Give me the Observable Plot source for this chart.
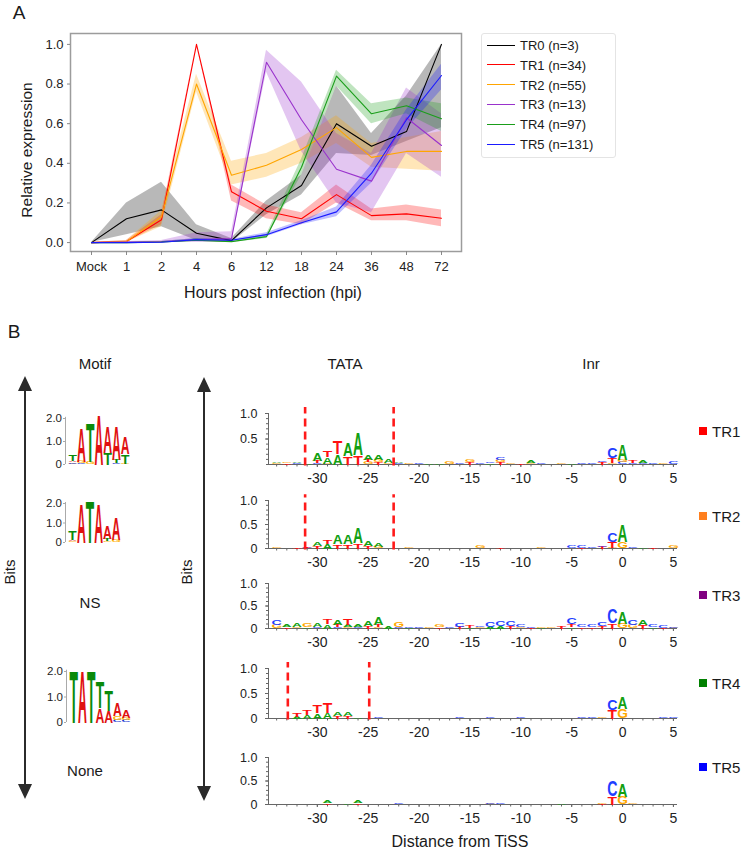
<!DOCTYPE html>
<html><head><meta charset="utf-8">
<script src="https://cdn.jsdelivr.net/npm/d3@7"></script>
<script src="https://cdn.jsdelivr.net/npm/@observablehq/plot@0.6"></script>
<style>
body{margin:0;background:#fff;font-family:"Liberation Sans",Arial,sans-serif;}
#root{position:relative;width:750px;height:851px;overflow:hidden;background:#fff;}
.lbl{position:absolute;white-space:nowrap;line-height:1;color:#1a1a1a;}
.pl{position:absolute;}
</style></head><body><div id="root"></div>
<script>
// ---------------- Panel A data ----------------
const hours = ["Mock","1","2","4","6","12","18","24","36","48","72"];
const seriesNames = ["TR0 (n=3)","TR1 (n=34)","TR2 (n=55)","TR3 (n=13)","TR4 (n=97)","TR5 (n=131)"];
const seriesColors = ["#000000","#ff0000","#ffa500","#9932cc","#1a9e1a","#1a1aff"];
const tr0Mean = [0,0.12,0.165,0.047,0.01,0.175,0.288,0.60,0.486,0.56,1.0];
const tr0Lo   = [0,0.04,0.08,0.01,0.0,0.14,0.24,0.45,0.44,0.51,0.58];
const tr0Hi   = [0,0.20,0.305,0.09,0.02,0.21,0.34,0.79,0.55,0.74,1.0];
const tr1Mean = [0,0.005,0.115,1.0,0.256,0.158,0.12,0.242,0.136,0.145,0.123];
const tr1Lo   = [0,0,0.09,1.0,0.21,0.12,0.09,0.20,0.11,0.11,0.08];
const tr1Hi   = [0,0.01,0.14,1.0,0.29,0.19,0.15,0.29,0.17,0.19,0.165];
const tr2Mean = [0,0.005,0.13,0.80,0.34,0.39,0.47,0.58,0.43,0.46,0.46];
const tr2Lo   = [0,0,0.08,0.76,0.29,0.33,0.40,0.50,0.38,0.37,0.36];
const tr2Hi   = [0,0.01,0.16,0.85,0.41,0.45,0.53,0.64,0.50,0.53,0.56];
const tr3Mean = [0,0.003,0.005,0.015,0.02,0.91,0.62,0.37,0.31,0.63,0.49];
const tr3Lo   = [0,0,0,0,0,0.86,0.46,0.20,0.15,0.45,0.33];
const tr3Hi   = [0,0.005,0.01,0.05,0.055,0.97,0.81,0.55,0.45,0.78,0.65];
const tr4Mean = [0,0,0.003,0.012,0.005,0.03,0.38,0.84,0.65,0.69,0.625];
const tr4Lo   = [0,0,0,0.005,0,0.02,0.34,0.79,0.60,0.65,0.56];
const tr4Hi   = [0,0,0.005,0.02,0.01,0.04,0.42,0.87,0.70,0.73,0.70];
const tr5Mean = [0,0,0.002,0.015,0.012,0.04,0.10,0.155,0.35,0.62,0.843];
const tr5Lo   = [0,0,0,0.01,0.008,0.03,0.09,0.13,0.30,0.57,0.77];
const tr5Hi   = [0,0,0.005,0.02,0.016,0.05,0.11,0.18,0.39,0.67,0.90];
const yTicksA = [0,0.2,0.4,0.6,0.8,1.0];

// ---------------- Panel B data ----------------
// motif logos (position, stack bottom->top [letter, bits])
const motifTR1 = [
  [1,[["G",0.04],["C",0.05],["A",0.05],["T",0.28]]],
  [2,[["C",0.05],["G",0.08],["A",1.47]]],
  [3,[["G",0.1],["T",1.68]]],
  [4,[["A",2.12]]],
  [5,[["T",0.5],["A",1.13]]],
  [6,[["C",0.05],["T",0.15],["A",1.45]]],
  [7,[["G",0.04],["T",0.4],["A",0.74]]]
];
const motifTR2 = [
  [1,[["G",0.07],["A",0.08],["T",0.46]]],
  [2,[["A",2.0]]],
  [3,[["T",2.1]]],
  [4,[["A",2.0]]],
  [5,[["G",0.08],["T",0.12],["A",0.67]]],
  [6,[["G",0.14],["A",1.1]]]
];
const motifTR4 = [
  [1,[["T",2.05]]],
  [2,[["A",2.05]]],
  [3,[["T",2.05]]],
  [4,[["A",0.55],["T",1.0]]],
  [5,[["A",0.45],["T",0.8]]],
  [6,[["C",0.1],["G",0.15],["A",0.5]]],
  [7,[["C",0.08],["G",0.1],["A",0.3]]]
];
const motifTicks = [0,1,2];

// positional logos around the TiSS
const distMajor = [-30,-25,-20,-15,-10,-5,0,5];
const distMinor = [-34,-33,-32,-31,-30,-29,-28,-27,-26,-25,-24,-23,-22,-21,-20,-19,-18,-17,-16,-15,-14,-13,-12,-11,-10,-9,-8,-7,-6,-5,-4,-3,-2,-1,0,1,2,3,4,5];
const bitsMinor = [0,0.1,0.2,0.3,0.4,0.5,0.6,0.7,0.8,0.9,1.0];
const logoTR1 = [
  [-34,[["G",0.02],["A",0.02]]],[-33,[["T",0.02],["G",0.02]]],[-32,[["C",0.02],["A",0.02]]],[-31,[["A",0.03]]],
  [-30,[["C",0.02],["T",0.05],["A",0.16]]],
  [-29,[["G",0.01],["A",0.13],["T",0.12]]],
  [-28,[["A",0.21],["T",0.24]]],
  [-27,[["T",0.16],["A",0.24]]],
  [-26,[["T",0.18],["A",0.44]]],
  [-25,[["G",0.04],["T",0.04],["A",0.10]]],
  [-24,[["T",0.04],["G",0.04],["A",0.10]]],
  [-23,[["G",0.02],["A",0.07]]],
  [-22,[["C",0.02],["A",0.02]]],[-21,[["G",0.02]]],[-20,[["C",0.02]]],[-19,[["A",0.02]]],[-18,[["A",0.02]]],
  [-17,[["G",0.05]]],[-16,[["C",0.02]]],[-15,[["T",0.04],["G",0.04]]],[-14,[["C",0.02]]],[-13,[["A",0.02],["C",0.02]]],
  [-12,[["T",0.04],["G",0.05],["C",0.06]]],
  [-11,[["G",0.02]]],[-10,[["T",0.02]]],[-9,[["G",0.02],["A",0.04]]],[-8,[["C",0.02]]],[-6,[["G",0.02]]],[-5,[["A",0.02]]],
  [-4,[["C",0.02]]],[-3,[["C",0.03]]],[-2,[["T",0.04],["C",0.03]]],
  [-1,[["G",0.02],["T",0.10],["C",0.21]]],
  [0,[["C",0.04],["G",0.05],["A",0.30]]],
  [1,[["C",0.03],["T",0.04]]],[2,[["C",0.02],["A",0.05]]],[3,[["C",0.03]]],[4,[["G",0.02]]],[5,[["C",0.05]]]
];
const logoTR2 = [
  [-34,[["G",0.02]]],[-32,[["T",0.02]]],[-31,[["C",0.02],["T",0.03]]],
  [-30,[["T",0.05],["A",0.08]]],
  [-29,[["A",0.10],["T",0.09]]],
  [-28,[["T",0.09],["A",0.19]]],
  [-27,[["T",0.09],["A",0.19]]],
  [-26,[["T",0.11],["A",0.32]]],
  [-25,[["T",0.05],["A",0.10]]],
  [-24,[["G",0.04],["A",0.09]]],
  [-21,[["G",0.03]]],[-14,[["G",0.05]]],[-12,[["T",0.02]]],[-8,[["G",0.02]]],
  [-5,[["C",0.04]]],[-4,[["T",0.02],["C",0.04]]],[-3,[["C",0.02]]],[-2,[["T",0.04],["C",0.02]]],
  [-1,[["G",0.02],["T",0.12],["C",0.18]]],
  [0,[["G",0.14],["A",0.35]]],
  [1,[["C",0.02]]],[2,[["A",0.02]]],[3,[["T",0.02]]],[5,[["G",0.04]]]
];
const logoTR3 = [
  [-34,[["G",0.07],["C",0.1]]],[-33,[["T",0.03],["A",0.05]]],[-32,[["G",0.04],["A",0.07]]],[-31,[["A",0.03],["G",0.07]]],
  [-30,[["C",0.04],["A",0.08]]],[-29,[["A",0.09],["T",0.11]]],[-28,[["C",0.03],["T",0.04],["A",0.1]]],
  [-27,[["G",0.03],["A",0.05],["T",0.14]]],[-26,[["C",0.04],["A",0.06]]],[-25,[["T",0.05],["A",0.1]]],
  [-24,[["G",0.03],["T",0.05],["A",0.16]]],[-23,[["A",0.04]]],[-22,[["C",0.03],["G",0.1]]],[-21,[["A",0.02],["C",0.04]]],
  [-20,[["C",0.03]]],[-19,[["G",0.03]]],[-18,[["T",0.03],["G",0.05]]],[-17,[["C",0.03]]],
  [-16,[["T",0.04],["C",0.09]]],[-15,[["A",0.02],["T",0.05]]],[-14,[["G",0.03],["C",0.03]]],
  [-13,[["A",0.04],["C",0.1]]],[-12,[["A",0.06],["C",0.1]]],[-11,[["T",0.06],["C",0.1]]],
  [-10,[["G",0.03],["C",0.05]]],[-9,[["T",0.02],["C",0.04]]],[-8,[["A",0.02],["G",0.03]]],[-7,[["G",0.04]]],[-6,[["T",0.04]]],
  [-5,[["A",0.03],["T",0.06],["C",0.14]]],[-4,[["T",0.03],["C",0.05]]],[-3,[["T",0.03],["C",0.05]]],
  [-2,[["T",0.06],["C",0.08]]],
  [-1,[["T",0.11],["C",0.33]]],
  [0,[["G",0.11],["A",0.25]]],
  [1,[["G",0.08],["C",0.1]]],[2,[["T",0.08],["A",0.1]]],[3,[["A",0.03],["C",0.05]]],[4,[["T",0.02],["C",0.05]]],[5,[["G",0.02],["C",0.04]]]
];
const logoTR4 = [
  [-32,[["A",0.04],["T",0.07]]],
  [-31,[["A",0.08],["T",0.11]]],
  [-30,[["A",0.11],["T",0.14]]],
  [-29,[["A",0.12],["T",0.20]]],
  [-28,[["T",0.05],["A",0.08]]],
  [-27,[["T",0.05],["A",0.08]]],
  [-26,[["A",0.02]]],[-24,[["C",0.02]]],[-16,[["C",0.02]]],[-13,[["C",0.01]]],[-10,[["C",0.03]]],
  [-4,[["C",0.02]]],[-3,[["C",0.02]]],[-2,[["G",0.02]]],
  [-1,[["T",0.17],["C",0.22]]],
  [0,[["G",0.19],["A",0.23]]],
  [4,[["C",0.02]]],[5,[["C",0.02]]]
];
const logoTR5 = [
  [-29,[["T",0.03],["A",0.04]]],[-27,[["A",0.02]]],[-26,[["T",0.03],["A",0.04]]],[-22,[["C",0.03]]],
  [-13,[["G",0.02],["C",0.02]]],[-12,[["C",0.02]]],[-6,[["A",0.02]]],[-2,[["T",0.02],["G",0.02]]],
  [-1,[["T",0.17],["C",0.34]]],
  [0,[["G",0.17],["A",0.26]]],
  [1,[["G",0.03]]]
];
const dashTR1 = [-31.2,-22.5];
const dashTR2 = [-31.2,-22.5];
const dashTR4 = [-32.9,-24.9];
const groupNames = ["TR1","TR2","TR3","TR4","TR5"];
const groupColors = ["#ff0000","#ff7f1e","#800080","#008000","#0000ff"];

// ---------------- helpers ----------------
const FONT = "Liberation Sans, Arial, sans-serif";
const root = document.getElementById("root");
const logoColors = {A:"#12a012", C:"#1f3fff", G:"#ffa800", T:"#ff1010"};
const motifColors = {A:"#e01010", C:"#1030d0", G:"#ffb000", T:"#0a8a0a"};

function label(text, cx, cy, size, opts = {}) {
  const d = document.createElement("div");
  d.className = "lbl";
  d.textContent = text;
  d.style.fontSize = size + "px";
  d.style.left = cx + "px";
  d.style.top = cy + "px";
  let tr = "translate(-50%,-50%)";
  if (opts.anchor === "start") tr = "translate(0,-50%)";
  if (opts.rotate) tr += " rotate(" + opts.rotate + "deg)";
  d.style.transform = tr;
  if (opts.color) d.style.color = opts.color;
  root.appendChild(d);
  return d;
}
function place(node, left, top) {
  const w = document.createElement("div");
  w.className = "pl";
  w.style.left = left + "px";
  w.style.top = top + "px";
  w.appendChild(node);
  root.appendChild(w);
}
const glyph = (() => {
  const c = document.createElement("canvas").getContext("2d");
  c.font = "bold 100px 'Liberation Sans'";
  const m = {};
  for (const L of "ACGT") {
    const t = c.measureText(L);
    m[L] = {L: t.actualBoundingBoxLeft, R: t.actualBoundingBoxRight, A: t.actualBoundingBoxAscent, D: t.actualBoundingBoxDescent};
  }
  return m;
})();
function stackRows(stacks) {
  const rows = [];
  for (const [pos, letters] of stacks) {
    let y = 0;
    for (const [L, h] of letters) { rows.push({pos, letter: L, y0: y, y1: y + h}); y += h; }
  }
  return rows;
}
function letterMark(rows, colors) {
  return Plot.text(rows, {x: "pos", y: "y0", text: "letter", fill: d => colors[d.letter],
    fontSize: 100, fontWeight: "bold", fontFamily: "Liberation Sans"});
}
// reshape each letter glyph to fill its stack cell, using the same scales as the plot
function shapeLetters(svg, rows, frac, xDom, xRng, yDom, yRng) {
  const fx = d3.scaleLinear(xDom, xRng), fy = d3.scaleLinear(yDom, yRng);
  const colW = Math.abs(fx(1) - fx(0)) * frac;
  const groups = Array.from(svg.querySelectorAll('g[aria-label="text"]'));
  const grp = groups[groups.length - 1];
  if (!grp) return;
  const nodes = grp.querySelectorAll("text");
  nodes.forEach((node, k) => {
    const d = rows[k]; if (!d) return;
    const g = glyph[d.letter];
    const xc = fx(d.pos), yb = fy(d.y0), yt = fy(d.y1);
    const H = Math.max(0.4, yb - yt);
    const gw = g.L + g.R, gh = g.A + g.D;
    node.removeAttribute("dy"); node.removeAttribute("x"); node.removeAttribute("y");
    node.setAttribute("text-anchor", "start");
    node.setAttribute("transform", `translate(${xc - colW / 2},${yb - H}) scale(${colW / gw},${H / gh}) translate(${g.L},${g.A})`);
  });
}

// ---------------- Panel A ----------------
const means = [tr0Mean,tr1Mean,tr2Mean,tr3Mean,tr4Mean,tr5Mean];
const los = [tr0Lo,tr1Lo,tr2Lo,tr3Lo,tr4Lo,tr5Lo];
const his = [tr0Hi,tr1Hi,tr2Hi,tr3Hi,tr4Hi,tr5Hi];
const rowsA = [];
seriesNames.forEach((s, i) => hours.forEach((h, j) => rowsA.push({series: s, hour: h, y: means[i][j], lo: los[i][j], hi: his[i][j]})));

const plotA = Plot.plot({
  width: 470, height: 310,
  marginLeft: 70, marginRight: 9, marginTop: 33, marginBottom: 59,
  x: {type: "point", domain: hours, padding: 0.5},
  y: {domain: [-0.045, 1.055]},
  color: {domain: seriesNames, range: seriesColors},
  style: {fontFamily: FONT, fontSize: "13px", color: "#222", background: "transparent", overflow: "visible"},
  marks: [
    Plot.areaY(rowsA, {x: "hour", y1: "lo", y2: "hi", z: "series", fill: "series", fillOpacity: 0.28}),
    Plot.lineY(rowsA, {x: "hour", y: "y", z: "series", stroke: "series", strokeWidth: 1.1}),
    Plot.frame({stroke: "#9c9c9c", strokeWidth: 1.5}),
    Plot.axisY({ticks: yTicksA, tickFormat: ".1f", tickSize: 3, tickPadding: 4, label: null, fontSize: 13, stroke: "#888"}),
    Plot.axisX({tickSize: 4, tickPadding: 6, label: null, fontSize: 13, stroke: "#888"})
  ]
});
place(plotA, 0, 0);
label("A", 19, 12, 19);
label("Relative expression", 27, 150, 15.5, {rotate: -90});
label("Hours post infection (hpi)", 273, 293, 16);

// legend
const leg = document.createElement("div");
Object.assign(leg.style, {position: "absolute", left: "481px", top: "33px", width: "133px", height: "123px",
  border: "1px solid #e4e4e4", borderRadius: "3px", background: "#fff"});
seriesNames.forEach((s, i) => {
  const cy = 11 + i * 19.8;
  const ln = document.createElement("div");
  Object.assign(ln.style, {position: "absolute", left: "5px", top: (cy - 0.5) + "px", width: "28px", height: "1px", background: seriesColors[i]});
  leg.appendChild(ln);
  const t = document.createElement("div");
  t.className = "lbl";
  t.textContent = s;
  Object.assign(t.style, {left: "38px", top: cy + "px", fontSize: "13px", transform: "translate(0,-50%)"});
  leg.appendChild(t);
});
root.appendChild(leg);

// ---------------- Panel B ----------------
label("B", 14, 331, 19);
label("Motif", 95, 363, 15);
label("TATA", 345, 363, 15);
label("Inr", 591, 363, 15);
label("Bits", 9, 572, 15, {rotate: -90});
label("Bits", 186, 572, 15, {rotate: -90});
label("NS", 90, 602, 15);
label("None", 85, 770, 15);
label("Distance from TiSS", 460, 842, 16);

// arrows
const arrowSvg = document.createElementNS("http://www.w3.org/2000/svg", "svg");
arrowSvg.setAttribute("width", 750); arrowSvg.setAttribute("height", 851);
arrowSvg.style.position = "absolute"; arrowSvg.style.left = "0"; arrowSvg.style.top = "0";
arrowSvg.innerHTML = `
<g fill="#2b2b2b" stroke="#2b2b2b">
<line x1="25" y1="388" x2="25" y2="787" stroke-width="2"/>
<path d="M25,376 L32,391 L18,391 Z" stroke="none"/>
<path d="M25,799 L32,784 L18,784 Z" stroke="none"/>
<line x1="204" y1="389" x2="204" y2="789" stroke-width="2"/>
<path d="M204,377 L211,392 L197,392 Z" stroke="none"/>
<path d="M204,801 L211,786 L197,786 Z" stroke="none"/>
</g>`;
root.appendChild(arrowSvg);

// motif logos (left)
function motifLogo(stacks, ncol, left, top, height, yBase, yTop) {
  const rows = stackRows(stacks);
  const xr = 35 + ncol * 9.15;
  const xDom = [0.18, ncol + 0.5], xRng = [35, xr], yDom = [0, 2], yRng = [yBase, yTop];
  const svg = Plot.plot({
    width: 110, height,
    marginLeft: 35, marginRight: 110 - xr, marginTop: 4, marginBottom: height - yBase,
    x: {domain: xDom, range: xRng, axis: null},
    y: {domain: yDom, range: yRng},
    style: {fontFamily: FONT, fontSize: "11.5px", color: "#222", background: "transparent", overflow: "visible"},
    marks: [
      Plot.ruleX([0.18], {y1: 0, y2: 2.05, stroke: "#aaa"}),
      Plot.axisY({ticks: motifTicks, tickSize: 2, tickPadding: 1.5, tickFormat: d => d === 0 ? "0" : d.toFixed(1), label: null, stroke: "#aaa", fontSize: 11.5}),
      letterMark(rows, motifColors)
    ]
  });
  shapeLetters(svg, rows, 0.95, xDom, xRng, yDom, yRng);
  place(svg, left, top);
}
motifLogo(motifTR1, 7, 30, 400, 80, 64, 18);
motifLogo(motifTR2, 6, 30, 485, 70, 57, 18);
motifLogo(motifTR4, 7, 31, 655, 80, 67, 16);

// positional logos (right)
function tissLogo(stacks, baseline, onePx, dashes, yTickVals, name, color, nameY) {
  const rows = stackRows(stacks);
  const top = baseline - 70;
  const xDom = [-34.8, 5.4], xRng = [38, 447], yDom = [0, 1], yRng = [70, 70 - onePx];
  const svg = Plot.plot({
    width: 470, height: 100,
    marginLeft: 38, marginRight: 23, marginTop: 0, marginBottom: 30,
    x: {domain: xDom, range: xRng},
    y: {domain: yDom, range: yRng},
    style: {fontFamily: FONT, fontSize: "12.5px", color: "#222", background: "transparent", overflow: "visible"},
    marks: [
      Plot.ruleX([-34.8], {y1: 0, y2: 1.0, stroke: "#666"}),
      Plot.axisY({ticks: bitsMinor, tickSize: 2, tickFormat: () => "", label: null, stroke: "#666"}),
      Plot.axisY({ticks: yTickVals, tickSize: 3, tickPadding: 8, tickFormat: d => d === 0 ? "0" : d.toFixed(1), label: null, stroke: "#666", fontSize: 12.5}),
      Plot.axisX({ticks: distMinor, tickSize: 2.5, tickFormat: () => "", label: null, stroke: "#666"}),
      Plot.axisX({ticks: distMajor, tickSize: 3, tickPadding: 6, tickFormat: d => String(d), label: null, stroke: "#666", fontSize: 14}),
      Plot.ruleY([0], {stroke: "#666"}),
      letterMark(rows, logoColors),
      Plot.ruleX(dashes, {y1: -0.03, y2: 1.12, stroke: "#ff1a1a", strokeWidth: 2.6, strokeDasharray: "8,5"})
    ]
  });
  shapeLetters(svg, rows, 0.92, xDom, xRng, yDom, yRng);
  place(svg, 230, top);
  const sq = document.createElement("div");
  Object.assign(sq.style, {position: "absolute", left: "699px", top: (nameY - 4) + "px", width: "8px", height: "8px", background: color});
  root.appendChild(sq);
  label(name, 712, nameY, 15, {anchor: "start"});
}
tissLogo(logoTR1, 464, 51, dashTR1, [0.5, 1.0], groupNames[0], groupColors[0], 431);
tissLogo(logoTR2, 548, 48, dashTR2, [0, 0.5, 1.0], groupNames[1], groupColors[1], 516);
tissLogo(logoTR3, 628, 45, [], [0, 0.5, 1.0], groupNames[2], groupColors[2], 595);
tissLogo(logoTR4, 718, 50, dashTR4, [0, 0.5, 1.0], groupNames[3], groupColors[3], 683);
tissLogo(logoTR5, 804, 47, [], [0, 0.5, 1.0], groupNames[4], groupColors[4], 767);
</script>
</body></html>
